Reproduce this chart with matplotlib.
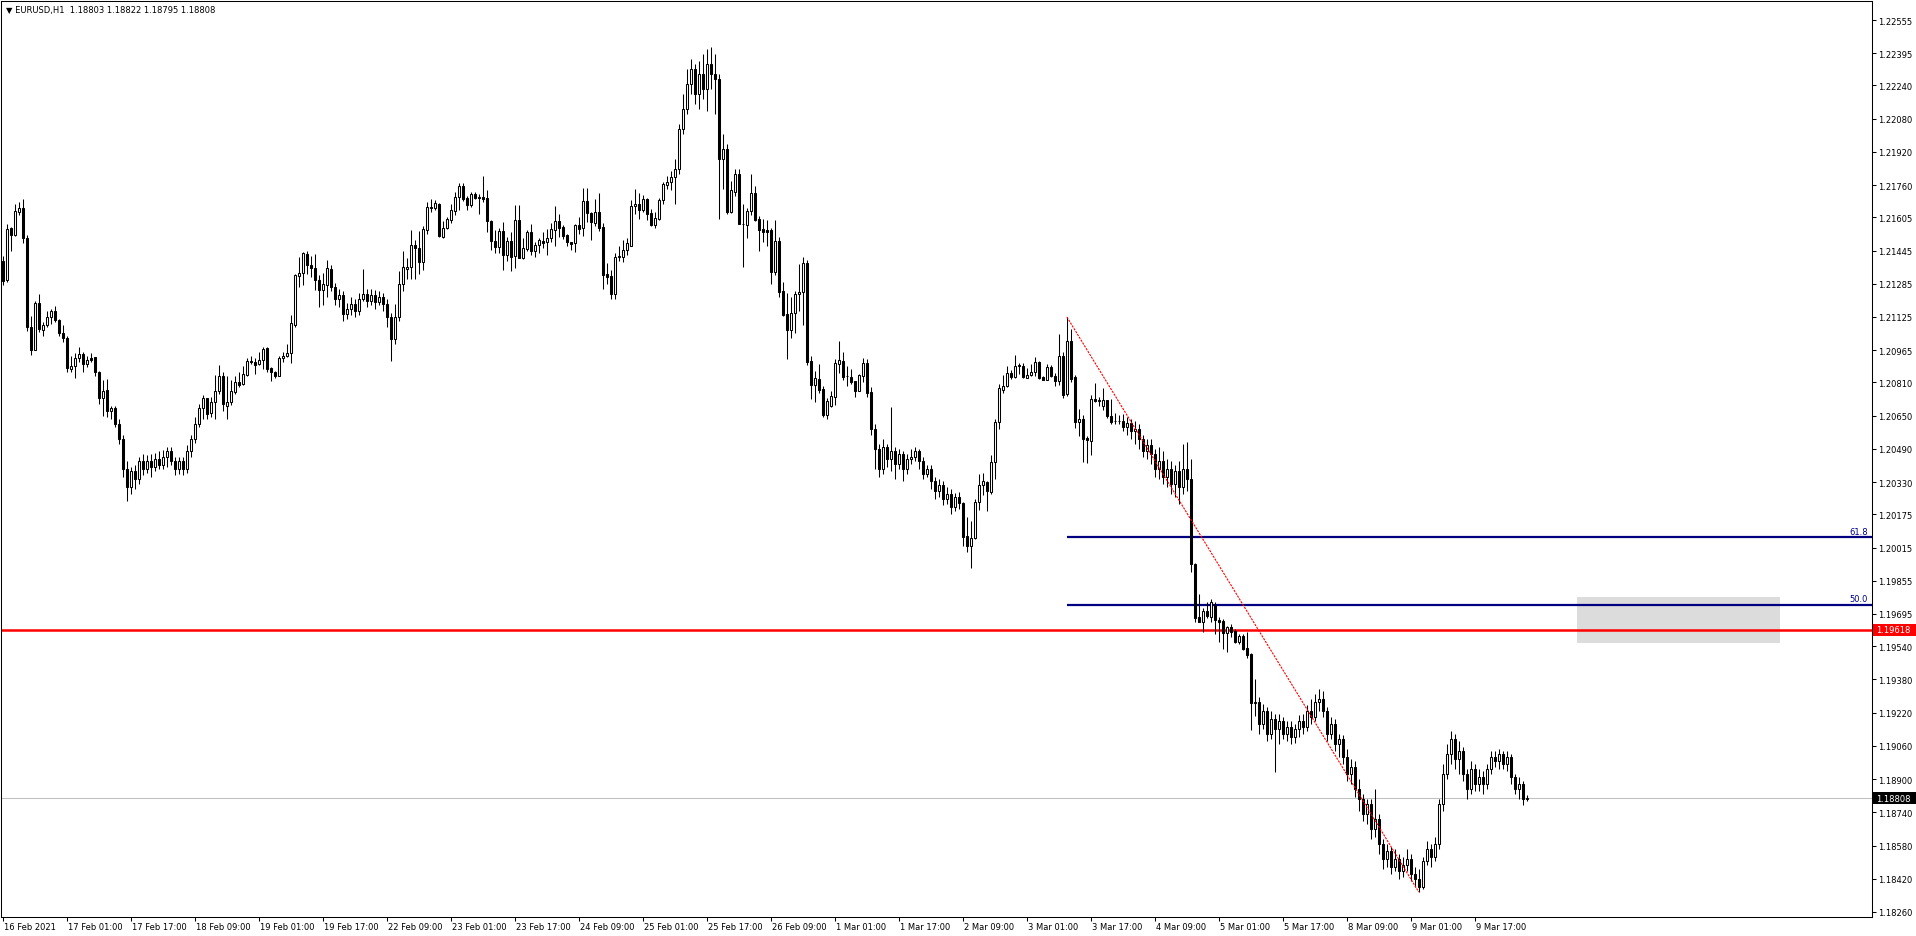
import numpy as np
import matplotlib
matplotlib.use('Agg')
import matplotlib.pyplot as plt
import matplotlib.transforms as mtransforms
from matplotlib.patches import Rectangle

# --- DADOS: EURUSD H1, 16 Feb 2021 09:00 -> 10 Mar 2021 06:00 ---
titulo = "\u25BC EURUSD,H1  1.18803 1.18822 1.18795 1.18808"

opens = [
    1.21396, 1.21304, 1.21553, 1.21520, 1.21632, 1.21650, 1.21504, 1.21078, 1.20967, 1.21192,
    1.21064, 1.21086, 1.21123, 1.21154, 1.21112, 1.21046, 1.21022, 1.20874, 1.20887, 1.20926,
    1.20947, 1.20899, 1.20929, 1.20931, 1.20861, 1.20733, 1.20775, 1.20674, 1.20688, 1.20610,
    1.20537, 1.20393, 1.20306, 1.20383, 1.20345, 1.20431, 1.20393, 1.20431, 1.20403, 1.20441,
    1.20412, 1.20451, 1.20480, 1.20431, 1.20393, 1.20431, 1.20393, 1.20480, 1.20537, 1.20610,
    1.20685, 1.20733, 1.20663, 1.20717, 1.20770, 1.20842, 1.20698, 1.20717, 1.20765, 1.20813,
    1.20801, 1.20846, 1.20911, 1.20907, 1.20897, 1.20916, 1.20974, 1.20879, 1.20859, 1.20842,
    1.20926, 1.20939, 1.20950, 1.21088, 1.21324, 1.21337, 1.21427, 1.21377, 1.21359, 1.21304,
    1.21256, 1.21279, 1.21356, 1.21269, 1.21212, 1.21231, 1.21139, 1.21163, 1.21187, 1.21154,
    1.21212, 1.21236, 1.21202, 1.21231, 1.21197, 1.21221, 1.21187, 1.21125, 1.21019, 1.21125,
    1.21284, 1.21356, 1.21364, 1.21472, 1.21457, 1.21388, 1.21544, 1.21654, 1.21651, 1.21669,
    1.21511, 1.21552, 1.21593, 1.21635, 1.21701, 1.21754, 1.21696, 1.21666, 1.21716, 1.21701,
    1.21701, 1.21696, 1.21587, 1.21491, 1.21463, 1.21539, 1.21425, 1.21491, 1.21420, 1.21592,
    1.21408, 1.21452, 1.21535, 1.21441, 1.21472, 1.21491, 1.21484, 1.21504, 1.21546, 1.21586,
    1.21558, 1.21520, 1.21484, 1.21480, 1.21568, 1.21552, 1.21683, 1.21624, 1.21576, 1.21630,
    1.21558, 1.21332, 1.21321, 1.21236, 1.21414, 1.21415, 1.21446, 1.21468, 1.21661, 1.21669,
    1.21641, 1.21693, 1.21626, 1.21569, 1.21597, 1.21687, 1.21762, 1.21776, 1.21799, 1.21838,
    1.22030, 1.22126, 1.22247, 1.22319, 1.22199, 1.22295, 1.22223, 1.22343, 1.22295, 1.22271,
    1.21886, 1.21934, 1.21629, 1.21728, 1.21813, 1.21573, 1.21569, 1.21634, 1.21720, 1.21595,
    1.21549, 1.21544, 1.21544, 1.21343, 1.21491, 1.21250, 1.21139, 1.21064, 1.21144, 1.21234,
    1.21244, 1.21385, 1.20912, 1.20799, 1.20826, 1.20778, 1.20654, 1.20695, 1.20738, 1.20900,
    1.20913, 1.20841, 1.20836, 1.20817, 1.20770, 1.20842, 1.20903, 1.20762, 1.20586, 1.20489,
    1.20393, 1.20499, 1.20441, 1.20480, 1.20417, 1.20465, 1.20393, 1.20441, 1.20451, 1.20480,
    1.20431, 1.20369, 1.20393, 1.20335, 1.20287, 1.20316, 1.20249, 1.20273, 1.20210, 1.20258,
    1.20229, 1.20069, 1.20021, 1.20059, 1.20233, 1.20316, 1.20329, 1.20281, 1.20425, 1.20618,
    1.20775, 1.20794, 1.20854, 1.20837, 1.20895, 1.20890, 1.20833, 1.20846, 1.20859, 1.20910,
    1.20835, 1.20823, 1.20883, 1.20839, 1.20818, 1.20936, 1.20754, 1.21011, 1.20835, 1.20618,
    1.20634, 1.20544, 1.20529, 1.20730, 1.20722, 1.20698, 1.20724, 1.20650, 1.20623, 1.20622,
    1.20624, 1.20595, 1.20614, 1.20576, 1.20586, 1.20537, 1.20480, 1.20509, 1.20465, 1.20393,
    1.20431, 1.20354, 1.20393, 1.20321, 1.20383, 1.20306, 1.20393, 1.20345, 1.19936, 1.19679,
    1.19655, 1.19711, 1.19679, 1.19738, 1.19667, 1.19663, 1.19603, 1.19631, 1.19614, 1.19559,
    1.19590, 1.19530, 1.19502, 1.19265, 1.19271, 1.19165, 1.19228, 1.19117, 1.19189, 1.19141,
    1.19180, 1.19117, 1.19151, 1.19103, 1.19141, 1.19180, 1.19151, 1.19228, 1.19199, 1.19271,
    1.19286, 1.19228, 1.19117, 1.19165, 1.19069, 1.19093, 1.19006, 1.18924, 1.18958, 1.18852,
    1.18804, 1.18732, 1.18780, 1.18660, 1.18708, 1.18587, 1.18515, 1.18554, 1.18477, 1.18515,
    1.18457, 1.18486, 1.18515, 1.18443, 1.18419, 1.18380, 1.18505, 1.18563, 1.18525, 1.18587,
    1.18780, 1.18924, 1.19021, 1.19093, 1.18997, 1.19035, 1.18924, 1.18852, 1.18948, 1.18876,
    1.18910, 1.18876, 1.18948, 1.19006, 1.18987, 1.19021, 1.18973, 1.19006, 1.18910, 1.18852,
    1.18876, 1.18803,
]

highs = [
    1.21420, 1.21573, 1.21556, 1.21669, 1.21677, 1.21693, 1.21520, 1.21131, 1.21202, 1.21236,
    1.21099, 1.21155, 1.21163, 1.21179, 1.21115, 1.21086, 1.21032, 1.20939, 1.20952, 1.20979,
    1.20955, 1.20936, 1.20952, 1.20933, 1.20863, 1.20823, 1.20826, 1.20695, 1.20696, 1.20634,
    1.20557, 1.20431, 1.20403, 1.20412, 1.20451, 1.20465, 1.20460, 1.20465, 1.20470, 1.20480,
    1.20484, 1.20499, 1.20499, 1.20451, 1.20451, 1.20451, 1.20509, 1.20557, 1.20643, 1.20705,
    1.20749, 1.20735, 1.20738, 1.20846, 1.20894, 1.20861, 1.20839, 1.20823, 1.20842, 1.20859,
    1.20887, 1.20926, 1.20939, 1.20926, 1.20955, 1.20979, 1.20979, 1.20886, 1.20865, 1.20936,
    1.20958, 1.20995, 1.21135, 1.21332, 1.21412, 1.21439, 1.21441, 1.21419, 1.21427, 1.21327,
    1.21337, 1.21399, 1.21375, 1.21289, 1.21260, 1.21250, 1.21192, 1.21221, 1.21212, 1.21240,
    1.21356, 1.21260, 1.21260, 1.21255, 1.21250, 1.21240, 1.21212, 1.21144, 1.21187, 1.21348,
    1.21441, 1.21409, 1.21545, 1.21496, 1.21540, 1.21562, 1.21680, 1.21693, 1.21688, 1.21672,
    1.21586, 1.21605, 1.21668, 1.21727, 1.21770, 1.21770, 1.21706, 1.21725, 1.21725, 1.21717,
    1.21805, 1.21736, 1.21592, 1.21544, 1.21555, 1.21584, 1.21509, 1.21533, 1.21664, 1.21664,
    1.21505, 1.21544, 1.21573, 1.21487, 1.21504, 1.21535, 1.21549, 1.21577, 1.21661, 1.21621,
    1.21568, 1.21525, 1.21486, 1.21573, 1.21605, 1.21745, 1.21745, 1.21632, 1.21693, 1.21722,
    1.21576, 1.21383, 1.21353, 1.21431, 1.21468, 1.21497, 1.21505, 1.21688, 1.21741, 1.21722,
    1.21712, 1.21696, 1.21645, 1.21632, 1.21696, 1.21776, 1.21804, 1.21828, 1.21886, 1.22054,
    1.22199, 1.22319, 1.22367, 1.22343, 1.22357, 1.22391, 1.22415, 1.22425, 1.22391, 1.22295,
    1.22006, 1.21958, 1.21781, 1.21838, 1.21838, 1.21669, 1.21648, 1.21813, 1.21754, 1.21610,
    1.21597, 1.21590, 1.21552, 1.21590, 1.21509, 1.21292, 1.21240, 1.21220, 1.21250, 1.21380,
    1.21412, 1.21399, 1.20936, 1.20865, 1.20899, 1.20794, 1.20735, 1.20767, 1.20923, 1.21009,
    1.20955, 1.20889, 1.20874, 1.20819, 1.20850, 1.20927, 1.20923, 1.20788, 1.20610, 1.20513,
    1.20537, 1.20513, 1.20692, 1.20499, 1.20489, 1.20480, 1.20465, 1.20489, 1.20499, 1.20489,
    1.20451, 1.20412, 1.20412, 1.20354, 1.20345, 1.20335, 1.20306, 1.20297, 1.20277, 1.20282,
    1.20233, 1.20160, 1.20144, 1.20249, 1.20369, 1.20374, 1.20337, 1.20460, 1.20634, 1.20802,
    1.20846, 1.20890, 1.20871, 1.20942, 1.20903, 1.20903, 1.20881, 1.20899, 1.20931, 1.20914,
    1.20839, 1.20899, 1.20894, 1.20855, 1.21043, 1.20955, 1.21125, 1.21067, 1.20846, 1.20682,
    1.20653, 1.20553, 1.20749, 1.20807, 1.20738, 1.20782, 1.20727, 1.20730, 1.20663, 1.20653,
    1.20658, 1.20643, 1.20634, 1.20624, 1.20610, 1.20557, 1.20537, 1.20537, 1.20489, 1.20499,
    1.20480, 1.20441, 1.20431, 1.20412, 1.20431, 1.20513, 1.20523, 1.20441, 1.19940, 1.19791,
    1.19722, 1.19751, 1.19767, 1.19751, 1.19679, 1.19671, 1.19638, 1.19647, 1.19623, 1.19599,
    1.19599, 1.19607, 1.19505, 1.19382, 1.19295, 1.19261, 1.19247, 1.19228, 1.19213, 1.19213,
    1.19199, 1.19180, 1.19180, 1.19165, 1.19209, 1.19213, 1.19257, 1.19286, 1.19310, 1.19334,
    1.19324, 1.19247, 1.19199, 1.19189, 1.19117, 1.19112, 1.19045, 1.18997, 1.18987, 1.18900,
    1.18828, 1.18804, 1.18804, 1.18852, 1.18732, 1.18611, 1.18587, 1.18573, 1.18563, 1.18539,
    1.18525, 1.18563, 1.18539, 1.18477, 1.18467, 1.18525, 1.18602, 1.18587, 1.18621, 1.18804,
    1.18973, 1.19069, 1.19131, 1.19117, 1.19083, 1.19054, 1.18948, 1.18987, 1.18973, 1.18948,
    1.18939, 1.18973, 1.19035, 1.19035, 1.19045, 1.19035, 1.19035, 1.19021, 1.18924, 1.18910,
    1.18891, 1.18822,
]

lows = [
    1.21279, 1.21295, 1.21444, 1.21517, 1.21617, 1.21481, 1.21057, 1.20943, 1.20965, 1.21051,
    1.21035, 1.21075, 1.21091, 1.21102, 1.21032, 1.21006, 1.20859, 1.20861, 1.20830, 1.20907,
    1.20859, 1.20883, 1.20907, 1.20842, 1.20705, 1.20650, 1.20642, 1.20634, 1.20595, 1.20513,
    1.20354, 1.20239, 1.20273, 1.20297, 1.20321, 1.20364, 1.20374, 1.20354, 1.20383, 1.20393,
    1.20393, 1.20403, 1.20412, 1.20364, 1.20369, 1.20364, 1.20374, 1.20451, 1.20518, 1.20595,
    1.20634, 1.20634, 1.20642, 1.20634, 1.20754, 1.20674, 1.20634, 1.20701, 1.20754, 1.20789,
    1.20797, 1.20842, 1.20899, 1.20850, 1.20894, 1.20875, 1.20861, 1.20818, 1.20833, 1.20839,
    1.20910, 1.20934, 1.20903, 1.21078, 1.21271, 1.21280, 1.21330, 1.21316, 1.21255, 1.21171,
    1.21184, 1.21223, 1.21250, 1.21183, 1.21173, 1.21106, 1.21115, 1.21135, 1.21125, 1.21135,
    1.21202, 1.21173, 1.21183, 1.21163, 1.21183, 1.21154, 1.21077, 1.20913, 1.20995, 1.21106,
    1.21250, 1.21308, 1.21308, 1.21308, 1.21332, 1.21353, 1.21526, 1.21632, 1.21641, 1.21511,
    1.21504, 1.21549, 1.21576, 1.21616, 1.21639, 1.21685, 1.21641, 1.21656, 1.21693, 1.21621,
    1.21677, 1.21535, 1.21449, 1.21431, 1.21431, 1.21353, 1.21396, 1.21348, 1.21362, 1.21408,
    1.21404, 1.21444, 1.21425, 1.21412, 1.21431, 1.21456, 1.21425, 1.21484, 1.21468, 1.21509,
    1.21500, 1.21468, 1.21449, 1.21439, 1.21525, 1.21517, 1.21584, 1.21496, 1.21562, 1.21538,
    1.21260, 1.21284, 1.21212, 1.21212, 1.21393, 1.21388, 1.21423, 1.21465, 1.21619, 1.21597,
    1.21632, 1.21592, 1.21564, 1.21555, 1.21593, 1.21670, 1.21741, 1.21738, 1.21669, 1.21813,
    1.22006, 1.22102, 1.22199, 1.22150, 1.22126, 1.22174, 1.22117, 1.22223, 1.22102, 1.21597,
    1.21741, 1.21621, 1.21626, 1.21706, 1.21573, 1.21366, 1.21505, 1.21616, 1.21587, 1.21444,
    1.21487, 1.21468, 1.21285, 1.21327, 1.21223, 1.21131, 1.20923, 1.21024, 1.21048, 1.21155,
    1.21086, 1.20894, 1.20730, 1.20717, 1.20759, 1.20645, 1.20634, 1.20693, 1.20703, 1.20855,
    1.20823, 1.20791, 1.20802, 1.20741, 1.20768, 1.20813, 1.20741, 1.20557, 1.20393, 1.20354,
    1.20369, 1.20403, 1.20383, 1.20345, 1.20393, 1.20335, 1.20369, 1.20417, 1.20431, 1.20393,
    1.20345, 1.20354, 1.20297, 1.20249, 1.20258, 1.20220, 1.20224, 1.20176, 1.20191, 1.20200,
    1.20024, 1.19992, 1.19915, 1.20056, 1.20196, 1.20269, 1.20192, 1.20273, 1.20345, 1.20586,
    1.20759, 1.20786, 1.20826, 1.20831, 1.20850, 1.20830, 1.20830, 1.20842, 1.20842, 1.20826,
    1.20823, 1.20821, 1.20836, 1.20791, 1.20799, 1.20736, 1.20746, 1.20813, 1.20589, 1.20553,
    1.20425, 1.20422, 1.20460, 1.20714, 1.20695, 1.20679, 1.20637, 1.20610, 1.20610, 1.20610,
    1.20576, 1.20557, 1.20537, 1.20513, 1.20489, 1.20451, 1.20441, 1.20417, 1.20354, 1.20345,
    1.20321, 1.20306, 1.20273, 1.20258, 1.20224, 1.20273, 1.20287, 1.19898, 1.19655, 1.19655,
    1.19610, 1.19674, 1.19655, 1.19599, 1.19559, 1.19526, 1.19513, 1.19583, 1.19554, 1.19550,
    1.19523, 1.19482, 1.19138, 1.19205, 1.19117, 1.19141, 1.19083, 1.19093, 1.18934, 1.19069,
    1.19093, 1.19083, 1.19069, 1.19074, 1.19103, 1.19117, 1.19131, 1.19165, 1.19180, 1.19228,
    1.19199, 1.19083, 1.19093, 1.19035, 1.19006, 1.18973, 1.18891, 1.18876, 1.18814, 1.18746,
    1.18698, 1.18684, 1.18611, 1.18621, 1.18539, 1.18467, 1.18477, 1.18443, 1.18457, 1.18419,
    1.18428, 1.18457, 1.18409, 1.18380, 1.18356, 1.18371, 1.18486, 1.18477, 1.18505, 1.18563,
    1.18746, 1.18900, 1.18973, 1.18948, 1.18924, 1.18891, 1.18804, 1.18828, 1.18843, 1.18843,
    1.18828, 1.18852, 1.18924, 1.18958, 1.18948, 1.18948, 1.18939, 1.18876, 1.18828, 1.18804,
    1.18775, 1.18795,
]

closes = [
    1.21300, 1.21549, 1.21521, 1.21635, 1.21648, 1.21504, 1.21078, 1.20967, 1.21192, 1.21067,
    1.21086, 1.21123, 1.21154, 1.21112, 1.21046, 1.21022, 1.20881, 1.20887, 1.20926, 1.20947,
    1.20899, 1.20919, 1.20919, 1.20861, 1.20736, 1.20769, 1.20674, 1.20688, 1.20610, 1.20537,
    1.20393, 1.20306, 1.20383, 1.20345, 1.20431, 1.20393, 1.20431, 1.20403, 1.20441, 1.20412,
    1.20451, 1.20480, 1.20431, 1.20393, 1.20431, 1.20393, 1.20480, 1.20537, 1.20610, 1.20685,
    1.20733, 1.20658, 1.20714, 1.20770, 1.20842, 1.20706, 1.20717, 1.20770, 1.20813, 1.20797,
    1.20849, 1.20911, 1.20910, 1.20895, 1.20916, 1.20971, 1.20875, 1.20861, 1.20842, 1.20926,
    1.20939, 1.20950, 1.21096, 1.21327, 1.21337, 1.21433, 1.21377, 1.21359, 1.21304, 1.21256,
    1.21282, 1.21359, 1.21269, 1.21212, 1.21231, 1.21139, 1.21163, 1.21187, 1.21154, 1.21212,
    1.21236, 1.21202, 1.21231, 1.21197, 1.21221, 1.21187, 1.21125, 1.21019, 1.21125, 1.21284,
    1.21364, 1.21367, 1.21472, 1.21459, 1.21388, 1.21549, 1.21653, 1.21651, 1.21672, 1.21513,
    1.21552, 1.21597, 1.21640, 1.21701, 1.21754, 1.21693, 1.21664, 1.21718, 1.21699, 1.21700,
    1.21693, 1.21588, 1.21489, 1.21463, 1.21539, 1.21425, 1.21489, 1.21415, 1.21592, 1.21410,
    1.21457, 1.21535, 1.21441, 1.21472, 1.21496, 1.21483, 1.21505, 1.21549, 1.21587, 1.21555,
    1.21516, 1.21484, 1.21476, 1.21568, 1.21549, 1.21683, 1.21624, 1.21581, 1.21630, 1.21555,
    1.21328, 1.21319, 1.21236, 1.21412, 1.21420, 1.21449, 1.21480, 1.21659, 1.21669, 1.21641,
    1.21693, 1.21621, 1.21569, 1.21600, 1.21687, 1.21765, 1.21776, 1.21799, 1.21838, 1.22030,
    1.22126, 1.22247, 1.22319, 1.22199, 1.22295, 1.22223, 1.22343, 1.22295, 1.22271, 1.21886,
    1.21934, 1.21629, 1.21738, 1.21813, 1.21573, 1.21571, 1.21637, 1.21720, 1.21593, 1.21546,
    1.21535, 1.21535, 1.21343, 1.21491, 1.21247, 1.21135, 1.21064, 1.21144, 1.21234, 1.21244,
    1.21385, 1.20910, 1.20799, 1.20831, 1.20775, 1.20654, 1.20722, 1.20744, 1.20903, 1.20916,
    1.20837, 1.20840, 1.20813, 1.20770, 1.20846, 1.20903, 1.20759, 1.20586, 1.20489, 1.20393,
    1.20499, 1.20441, 1.20480, 1.20417, 1.20465, 1.20393, 1.20441, 1.20451, 1.20480, 1.20431,
    1.20369, 1.20393, 1.20335, 1.20287, 1.20316, 1.20249, 1.20273, 1.20210, 1.20258, 1.20229,
    1.20067, 1.20021, 1.20059, 1.20233, 1.20317, 1.20334, 1.20287, 1.20425, 1.20618, 1.20782,
    1.20794, 1.20854, 1.20835, 1.20890, 1.20887, 1.20835, 1.20846, 1.20861, 1.20910, 1.20833,
    1.20823, 1.20883, 1.20839, 1.20818, 1.20936, 1.20751, 1.21011, 1.20826, 1.20618, 1.20634,
    1.20537, 1.20534, 1.20730, 1.20720, 1.20724, 1.20724, 1.20650, 1.20621, 1.20622, 1.20622,
    1.20595, 1.20614, 1.20576, 1.20586, 1.20537, 1.20480, 1.20509, 1.20465, 1.20393, 1.20431,
    1.20354, 1.20393, 1.20321, 1.20383, 1.20306, 1.20393, 1.20345, 1.19936, 1.19674, 1.19658,
    1.19711, 1.19684, 1.19754, 1.19667, 1.19658, 1.19602, 1.19631, 1.19610, 1.19559, 1.19590,
    1.19526, 1.19497, 1.19265, 1.19273, 1.19165, 1.19228, 1.19117, 1.19189, 1.19141, 1.19180,
    1.19117, 1.19151, 1.19103, 1.19141, 1.19180, 1.19151, 1.19228, 1.19199, 1.19271, 1.19286,
    1.19228, 1.19117, 1.19165, 1.19069, 1.19093, 1.19006, 1.18924, 1.18958, 1.18852, 1.18804,
    1.18732, 1.18780, 1.18660, 1.18708, 1.18587, 1.18515, 1.18554, 1.18477, 1.18515, 1.18457,
    1.18486, 1.18515, 1.18443, 1.18419, 1.18380, 1.18505, 1.18563, 1.18525, 1.18587, 1.18780,
    1.18924, 1.19021, 1.19093, 1.18997, 1.19035, 1.18924, 1.18852, 1.18948, 1.18876, 1.18910,
    1.18876, 1.18948, 1.19006, 1.18987, 1.19021, 1.18973, 1.19006, 1.18910, 1.18852, 1.18876,
    1.18804, 1.18808,
]

# rótulos do eixo do tempo (um a cada 16 barras)
rotulos_tempo = [
    "16 Feb 2021", "17 Feb 01:00", "17 Feb 17:00", "18 Feb 09:00", "19 Feb 01:00",
    "19 Feb 17:00", "22 Feb 09:00", "23 Feb 01:00", "23 Feb 17:00", "24 Feb 09:00",
    "25 Feb 01:00", "25 Feb 17:00", "26 Feb 09:00", "1 Mar 01:00", "1 Mar 17:00",
    "2 Mar 09:00", "3 Mar 01:00", "3 Mar 17:00", "4 Mar 09:00", "5 Mar 01:00",
    "5 Mar 17:00", "8 Mar 09:00", "9 Mar 01:00", "9 Mar 17:00",
]
barras_tempo = [16 * i for i in range(len(rotulos_tempo))]

# escala de preços
rotulos_preco = [
    "1.22555", "1.22395", "1.22240", "1.22080", "1.21920", "1.21760", "1.21605",
    "1.21445", "1.21285", "1.21125", "1.20965", "1.20810", "1.20650", "1.20490",
    "1.20330", "1.20175", "1.20015", "1.19855", "1.19695", "1.19540", "1.19380",
    "1.19220", "1.19060", "1.18900", "1.18740", "1.18580", "1.18420", "1.18260",
]

# objetos desenhados no gráfico
nivel_suporte = 1.19618
preco_bid = 1.18808
fibo_barra_ini, fibo_barra_fim = 266, 354
fibo_topo, fibo_fundo = 1.21125, 1.18356
fibo_niveis = [61.8, 50.0]
zona_barra_ini, zona_barra_fim = 393.6, 444.3
zona_topo, zona_fundo = 1.19777, 1.19555

# --- FIGURA ---
W, H = 1916, 937
plt.rcParams['font.family'] = ['DejaVu Sans']
fig = plt.figure(figsize=(W / 100, H / 100), dpi=100, facecolor='white')
# área do gráfico em pixels: x 0..1872, y 2..918
ax = fig.add_axes([0.5 / W, (H - 918) / H, 1871.5 / W, 916 / H])
ax.set_facecolor('white')

x = np.arange(len(closes))
o = np.array(opens)
h = np.array(highs)
l = np.array(lows)
c = np.array(closes)

xmin, xmax = -0.675, 467.325
ax.set_xlim(xmin, xmax)
ax.set_ylim(1.182359, 1.226465)

# zona cinza
ax.add_patch(Rectangle((zona_barra_ini, zona_fundo), zona_barra_fim - zona_barra_ini,
                       zona_topo - zona_fundo, facecolor='#DCDCDC', edgecolor='none', zorder=0.5))

# linhas horizontais
ax.axhline(preco_bid, color='#C0C0C0', linewidth=0.75, zorder=1)
ax.axhline(nivel_suporte, color='#FF0000', linewidth=1.8, zorder=2)

# fibonacci
for nv in fibo_niveis:
    p = fibo_fundo + nv / 100.0 * (fibo_topo - fibo_fundo)
    ax.hlines(p, fibo_barra_ini, xmax, color='#000080', linewidth=1.6, zorder=2)
    ax.text(xmax - 1.0, p + 0.00005, f"{nv:.1f}", color='#000080', fontsize=6,
            ha='right', va='bottom', zorder=6)
ax.plot([fibo_barra_ini, fibo_barra_fim], [fibo_topo, fibo_fundo], color='#FF0000',
        linewidth=0.8, linestyle=(0, (2, 1)), zorder=5)

# candles
ax.vlines(x, l, h, color='black', linewidth=0.75, zorder=3)
alta = c >= o
baixa = ~alta
ax.bar(x[alta], c[alta] - o[alta], bottom=o[alta], width=0.5, facecolor='white',
       edgecolor='black', linewidth=0.75, zorder=4)
ax.bar(x[baixa], o[baixa] - c[baixa], bottom=c[baixa], width=0.5, facecolor='black',
       edgecolor='black', linewidth=0.75, zorder=4)

# eixos
for s in ax.spines.values():
    s.set_color('black')
    s.set_linewidth(0.75)
ax.yaxis.tick_right()
ax.set_yticks([float(v) for v in rotulos_preco])
ax.set_yticklabels(rotulos_preco)
ax.tick_params(axis='y', direction='out', length=3, width=0.75, labelsize=6, pad=1.5,
               colors='black')
ax.set_xticks(barras_tempo)
ax.set_xticklabels(rotulos_tempo)
ax.tick_params(axis='x', direction='out', length=3, width=0.75, labelsize=6, pad=0.5,
               colors='black')
desloc = mtransforms.ScaledTranslation(1 / 100, 0, fig.dpi_scale_trans)
for lbl in ax.get_xticklabels():
    lbl.set_ha('left')
    lbl.set_transform(lbl.get_transform() + desloc)

# etiquetas de preço no eixo
mista = mtransforms.blended_transform_factory(fig.transFigure, ax.transData)
meia = 6.0 * (1.226465 - 1.182359) / 916
for nivel, cor_fundo in [(nivel_suporte, '#FF0000'), (preco_bid, '#000000')]:
    ax.add_patch(Rectangle((1873 / W, nivel - meia), 43 / W, 2 * meia, transform=mista,
                           facecolor=cor_fundo, edgecolor='none', clip_on=False, zorder=10))
    ax.text(1876 / W, nivel, f"{nivel:.5f}", transform=mista, color='white', fontsize=6,
            ha='left', va='center', zorder=11, clip_on=False)

fig.text(6 / W, 1 - 10 / H, titulo, fontsize=6, ha='left', va='center', color='black')

plt.savefig('out.png', dpi=100, facecolor='white')
